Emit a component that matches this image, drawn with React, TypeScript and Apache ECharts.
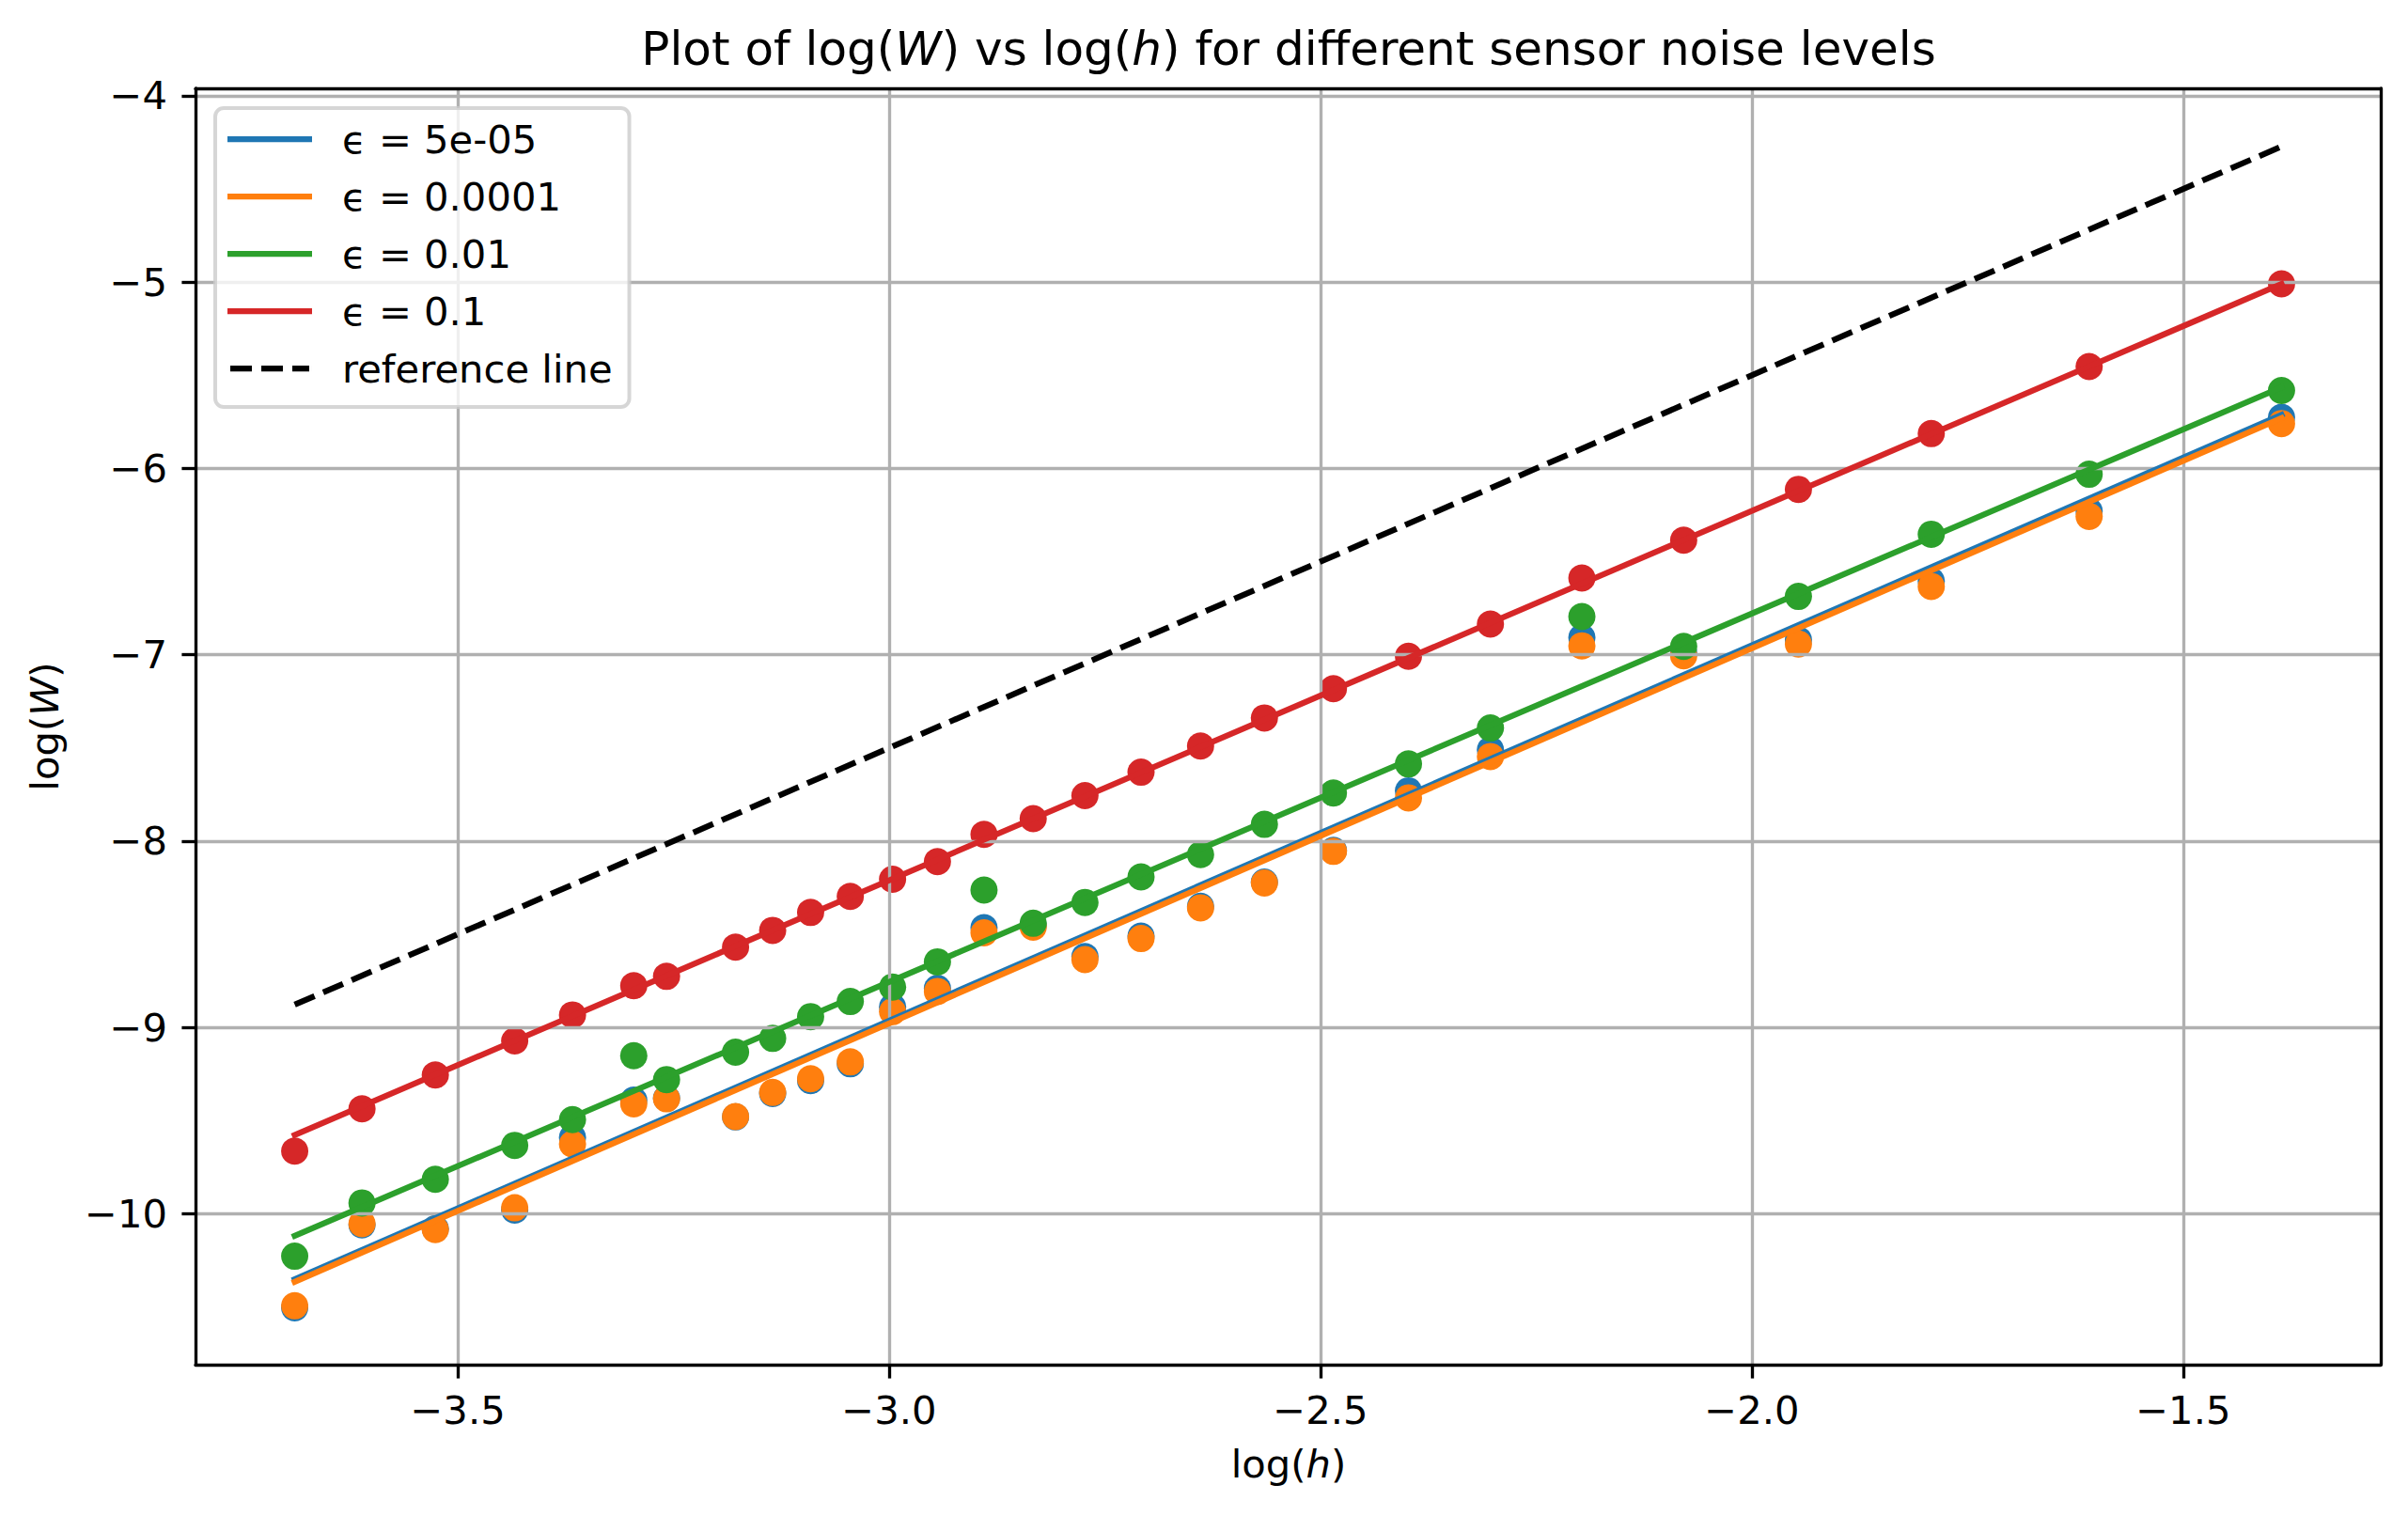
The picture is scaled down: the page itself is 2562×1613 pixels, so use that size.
import React, { useEffect, useRef } from "react";
import * as echarts from "echarts";

const X_LOG_H = [-3.689, -3.611, -3.526, -3.434, -3.367, -3.296, -3.258, -3.178, -3.135, -3.091, -3.045, -2.996, -2.944, -2.890, -2.833, -2.773, -2.708, -2.639, -2.565, -2.485, -2.398, -2.303, -2.197, -2.079, -1.946, -1.792, -1.609, -1.386];

const W_EPS_5E5 = [-10.505, -10.060, -10.080, -9.980, -9.590, -9.390, -9.380, -9.480, -9.355, -9.285, -9.195, -8.890, -8.790, -8.465, -8.450, -8.620, -8.510, -8.350, -8.220, -8.050, -7.730, -7.510, -6.907, -6.990, -6.920, -6.604, -6.228, -5.726];
const W_EPS_1E4 = [-10.494, -10.053, -10.085, -9.968, -9.626, -9.410, -9.383, -9.478, -9.349, -9.275, -9.185, -8.915, -8.807, -8.492, -8.462, -8.636, -8.523, -8.358, -8.225, -8.055, -7.768, -7.546, -6.952, -7.005, -6.942, -6.633, -6.257, -5.759];
const W_EPS_1E2 = [-10.228, -9.942, -9.815, -9.633, -9.495, -9.152, -9.280, -9.133, -9.059, -8.942, -8.861, -8.783, -8.648, -8.263, -8.441, -8.329, -8.192, -8.072, -7.910, -7.742, -7.586, -7.393, -6.795, -6.955, -6.687, -6.353, -6.031, -5.582];
const W_EPS_1E1 = [-9.664, -9.437, -9.255, -9.072, -8.933, -8.776, -8.726, -8.569, -8.479, -8.383, -8.297, -8.205, -8.110, -7.964, -7.879, -7.756, -7.630, -7.490, -7.339, -7.182, -7.008, -6.835, -6.588, -6.385, -6.112, -5.813, -5.453, -5.009];

const FIT_X = [-3.689, -1.386];
const FIT_5E5 = [-10.352, -5.712];
const FIT_1E4 = [-10.365, -5.730];
const FIT_1E2 = [-10.118, -5.565];
const FIT_1E1 = [-9.577, -5.010];
const REF_Y = [-8.878, -4.272];

const LABELS = ["ϵ = 5e-05", "ϵ = 0.0001", "ϵ = 0.01", "ϵ = 0.1"];
const COLORS = ["#1f77b4", "#ff7f0e", "#2ca02c", "#d62728"];
const REF_LABEL = "reference line";

const X_TICKS = [-3.5, -3.0, -2.5, -2.0, -1.5];
const Y_TICKS = [-10, -9, -8, -7, -6, -5, -4];

const X_MIN = -3.804;
const X_MAX = -1.271;
const Y_MIN = -10.81;
const Y_MAX = -3.96;

const FONT = "DejaVu Sans";
const FS = 41.7;
const LW = 6.25;
const GRID_W = 3.33;

const SOLID_ICON = "path://M0,0h90v6.25h-90z";
const DASH_ICON =
  "path://M0,0h0.01v6.25h-0.01z M3,0h23v6.25h-23z M36,0h23v6.25h-23z M69,0h18v6.25h-18z M89.99,0h0.01v6.25h-0.01z";

const pairs = (xs: number[], ys: number[]) => xs.map((x, i) => [x, ys[i]]);
const minus = (s: string) => s.replace("-", "\u2212");

export default function App() {
  const ref = useRef<HTMLDivElement>(null);
  useEffect(() => {
    if (!ref.current) return;
    const chart = echarts.init(ref.current, undefined, { renderer: "svg" });
    const pts = [W_EPS_5E5, W_EPS_1E4, W_EPS_1E2, W_EPS_1E1];
    const fits = [FIT_5E5, FIT_1E4, FIT_1E2, FIT_1E1];
    const scatterSeries = pts.map((ys, i) => ({
      name: "pts " + LABELS[i],
      type: "scatter",
      data: pairs(X_LOG_H, ys),
      symbol: "circle",
      symbolSize: 29,
      itemStyle: { color: COLORS[i], opacity: 1 },
      z: 1,
      silent: true,
    }));
    const lineSeries = fits.map((ys, i) => ({
      name: LABELS[i],
      type: "line",
      data: pairs(FIT_X, ys),
      symbol: "none",
      showSymbol: false,
      lineStyle: { color: COLORS[i], width: LW, cap: "square" },
      itemStyle: { color: COLORS[i] },
      z: 3,
      silent: true,
    }));
    const refSeries = {
      name: REF_LABEL,
      type: "line",
      data: pairs(FIT_X, REF_Y),
      symbol: "none",
      showSymbol: false,
      lineStyle: { color: "#000000", width: LW, type: [23, 10] },
      itemStyle: { color: "#000000" },
      z: 3,
      silent: true,
    };
    const tickStyle = { color: "#000000", width: GRID_W };
    const option = {
      animation: false,
      backgroundColor: "#ffffff",
      textStyle: { fontFamily: FONT },
      grid: { left: 208, right: 29, top: 94, bottom: 161, containLabel: false },
      legend: {
        show: true,
        data: [
          ...LABELS.map((n, i) => ({ name: n, icon: SOLID_ICON, itemStyle: { color: COLORS[i], borderWidth: 0 } })),
          { name: REF_LABEL, icon: DASH_ICON, itemStyle: { color: "#000000", borderWidth: 0 } },
        ],
        orient: "vertical",
        left: 229,
        top: 115,
        itemWidth: 90,
        itemHeight: 42,
        itemGap: 19,
        symbolKeepAspect: true,
        padding: [12, 18, 20, 13],
        backgroundColor: "rgba(255,255,255,0.8)",
        borderColor: "rgba(204,204,204,0.8)",
        borderWidth: 4,
        borderRadius: 9,
        selectedMode: false,
        itemStyle: { borderWidth: 0 },
        textStyle: {
          fontFamily: FONT,
          fontSize: FS,
          color: "#000000",
          lineHeight: 42,
          padding: [0, 0, 0, 27],
        },
        z: 10,
      },
      xAxis: [
        {
          type: "value",
          min: X_MIN,
          max: X_MAX,
          position: "bottom",
          z: 2,
          axisLine: { show: true, onZero: false, lineStyle: tickStyle },
          axisTick: { show: true, inside: false, length: 14.6, lineStyle: tickStyle, customValues: X_TICKS },
          axisLabel: {
            show: true,
            customValues: X_TICKS,
            margin: 27,
            fontFamily: FONT,
            fontSize: FS,
            color: "#000000",
            formatter: (v: number) => minus(v.toFixed(1)),
          },
          splitLine: { show: true, lineStyle: { color: "#b0b0b0", width: GRID_W } },
        },
        {
          type: "value",
          min: X_MIN,
          max: X_MAX,
          position: "top",
          z: 4,
          axisLine: { show: true, onZero: false, lineStyle: tickStyle },
          axisTick: { show: false },
          axisLabel: { show: false },
          splitLine: { show: false },
        },
      ],
      yAxis: [
        {
          type: "value",
          min: Y_MIN,
          max: Y_MAX,
          position: "left",
          z: 2,
          axisLine: { show: true, onZero: false, lineStyle: tickStyle },
          axisTick: { show: true, inside: false, length: 14.6, lineStyle: tickStyle, customValues: Y_TICKS },
          axisLabel: {
            show: true,
            customValues: Y_TICKS,
            margin: 30,
            fontFamily: FONT,
            fontSize: FS,
            color: "#000000",
            formatter: (v: number) => minus(String(Math.round(v))),
          },
          splitLine: { show: true, lineStyle: { color: "#b0b0b0", width: GRID_W } },
        },
        {
          type: "value",
          min: Y_MIN,
          max: Y_MAX,
          position: "right",
          z: 4,
          axisLine: { show: true, onZero: false, lineStyle: tickStyle },
          axisTick: { show: false },
          axisLabel: { show: false },
          splitLine: { show: false },
        },
      ],
      graphic: [
        {
          type: "text",
          x: 1371,
          y: 51.7,
          silent: true,
          style: {
            text: "{n|Plot of log(}{i|W}{n|) vs log(}{i|h}{n|) for different sensor noise levels}",
            align: "center",
            verticalAlign: "middle",
            fill: "#000000",
            font: `50px "${FONT}"`,
            rich: {
              n: { fontFamily: FONT, fontSize: 50, fill: "#000000" },
              i: { fontFamily: FONT, fontSize: 50, fontStyle: "italic", fill: "#000000" },
            },
          },
        },
        {
          type: "text",
          x: 1371,
          y: 1557,
          silent: true,
          style: {
            text: "{n|log(}{i|h}{n|)}",
            align: "center",
            verticalAlign: "middle",
            fill: "#000000",
            font: `${FS}px "${FONT}"`,
            rich: {
              n: { fontFamily: FONT, fontSize: FS, fill: "#000000" },
              i: { fontFamily: FONT, fontSize: FS, fontStyle: "italic", fill: "#000000" },
            },
          },
        },
        {
          type: "text",
          x: 47.5,
          y: 773,
          rotation: Math.PI / 2,
          silent: true,
          style: {
            text: "{n|log(}{i|W}{n|)}",
            align: "center",
            verticalAlign: "middle",
            fill: "#000000",
            font: `${FS}px "${FONT}"`,
            rich: {
              n: { fontFamily: FONT, fontSize: FS, fill: "#000000" },
              i: { fontFamily: FONT, fontSize: FS, fontStyle: "italic", fill: "#000000" },
            },
          },
        },
      ],
      series: [...scatterSeries, ...lineSeries, refSeries],
    };
    chart.setOption(option as any);
    return () => chart.dispose();
  }, []);
  return (
    <div
      ref={ref}
      style={{ position: "absolute", left: 0, top: 0, width: 2562, height: 1613, background: "#ffffff" }}
    />
  );
}
